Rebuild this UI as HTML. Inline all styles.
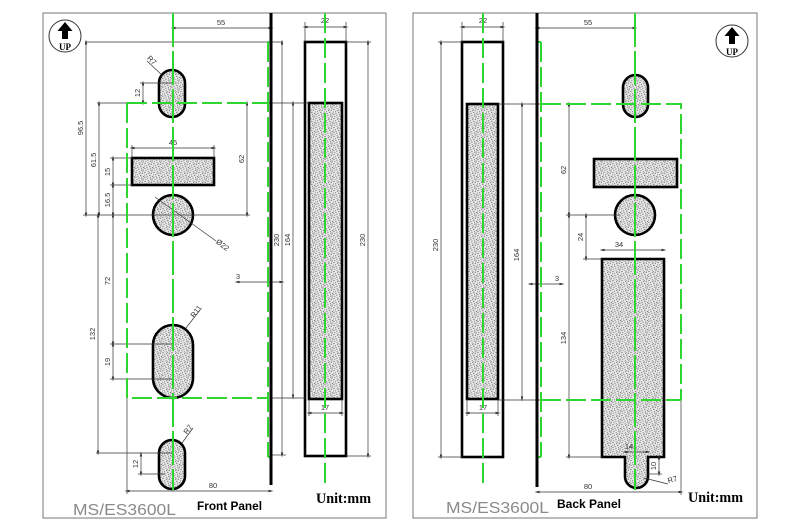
<!DOCTYPE html>
<html><head><meta charset="utf-8"><style>
html,body{margin:0;padding:0;background:#fff;}
svg{display:block;}
.d{stroke:#333;stroke-width:0.7;fill:none;}
.a{marker-start:url(#ar);marker-end:url(#ar);}
.g{stroke:#2fd62f;stroke-width:2;fill:none;stroke-dasharray:20 5;}
.gc{stroke:#2fd62f;stroke-width:2;fill:none;stroke-dasharray:34 4;}
.s{stroke:#000;stroke-width:2.6;fill:url(#st);}
.t{font-family:"Liberation Sans",sans-serif;font-size:7.5px;fill:#333;text-anchor:middle;}
</style></head><body>
<svg width="800" height="531" viewBox="0 0 800 531" xmlns="http://www.w3.org/2000/svg">
<defs>
<pattern id="st" width="9" height="9" patternUnits="userSpaceOnUse">
<rect width="9" height="9" fill="#e6e6e6"/>
<g fill="#666">
<circle cx="1" cy="1.5" r="0.6"/><circle cx="4.2" cy="0.8" r="0.55"/><circle cx="7.3" cy="2.2" r="0.6"/>
<circle cx="2.6" cy="3.8" r="0.55"/><circle cx="5.8" cy="4.4" r="0.6"/><circle cx="8.4" cy="5.6" r="0.55"/>
<circle cx="0.9" cy="6.3" r="0.6"/><circle cx="3.9" cy="7.2" r="0.55"/><circle cx="6.9" cy="8.1" r="0.6"/>
<circle cx="4.6" cy="2.6" r="0.5"/><circle cx="1.9" cy="8.4" r="0.5"/><circle cx="7.9" cy="0.2" r="0.5"/>
<circle cx="3" cy="5.5" r="0.5"/><circle cx="6.5" cy="6.3" r="0.5"/><circle cx="0.3" cy="4" r="0.5"/>
<circle cx="5.5" cy="1.8" r="0.45"/><circle cx="8.5" cy="8" r="0.45"/>
</g>
</pattern>
<marker id="ar" markerWidth="5" markerHeight="4" refX="2.5" refY="2" orient="auto-start-reverse" markerUnits="userSpaceOnUse">
<path d="M0,0.8 L5,2 L0,3.2 Z" fill="#333"/>
</marker>
</defs>

<!-- ================= LEFT (Front Panel) ================= -->
<rect x="43" y="13" width="343" height="505" fill="none" stroke="#777" stroke-width="1"/>
<circle cx="65" cy="36" r="16" fill="#fff" stroke="#333" stroke-width="1"/>
<polygon points="65,22 57.5,31 62,31 62,39 68,39 68,31 72.5,31" fill="#000"/>
<text x="65" y="50" font-family="Liberation Serif,serif" font-size="9" font-weight="bold" text-anchor="middle">UP</text>

<rect x="159" y="70" width="26" height="47" rx="13" class="s"/>
<rect x="132" y="158" width="82" height="27" class="s"/>
<circle cx="173" cy="215" r="20" class="s"/>
<rect x="153" y="325" width="40" height="73" rx="20" class="s"/>
<rect x="159" y="440" width="26" height="49" rx="13" class="s"/>
<rect x="305" y="42" width="41" height="414" fill="#fff" stroke="#000" stroke-width="2.6"/>
<rect x="309" y="103" width="33" height="296" class="s"/>

<line class="d a" x1="173" y1="28" x2="271" y2="28"/><text class="t" x="221" y="25">55</text>
<line class="d" x1="85" y1="42" x2="283" y2="42"/>
<line class="d a" x1="86" y1="42" x2="86" y2="215"/><text class="t" transform="translate(83,128) rotate(-90)">96.5</text>
<line class="d a" x1="99" y1="103" x2="99" y2="215"/><text class="t" transform="translate(96,160) rotate(-90)">61.5</text>
<line class="d" x1="97" y1="103" x2="127" y2="103"/>
<line class="d" x1="268" y1="103" x2="309" y2="103"/>
<line class="d a" x1="113" y1="158" x2="113" y2="185"/><text class="t" transform="translate(110,172) rotate(-90)">15</text>
<line class="d a" x1="113" y1="185" x2="113" y2="215"/><text class="t" transform="translate(110,200) rotate(-90)">16.5</text>
<line class="d" x1="110" y1="158" x2="132" y2="158"/><line class="d" x1="110" y1="185" x2="132" y2="185"/>
<line class="d" x1="83" y1="215" x2="250" y2="215"/>
<line class="d a" x1="132" y1="148" x2="214" y2="148"/><text class="t" x="173" y="145">45</text>
<line class="d" x1="132" y1="145" x2="132" y2="158"/><line class="d" x1="214" y1="145" x2="214" y2="158"/>
<line class="d a" x1="247" y1="103" x2="247" y2="215"/><text class="t" transform="translate(244,159) rotate(-90)">62</text>
<line class="d a" x1="143" y1="83" x2="143" y2="103"/><text class="t" transform="translate(140,93) rotate(-90)">12</text>
<line class="d" x1="140" y1="83" x2="173" y2="83"/>
<line class="d" x1="147" y1="61" x2="163" y2="76"/><text class="t" transform="translate(150,62) rotate(45)">R7</text>
<line class="d" x1="155" y1="197" x2="216" y2="241"/><text class="t" transform="translate(221,247) rotate(38)">Ø22</text>
<line class="d a" x1="113" y1="215" x2="113" y2="344"/><text class="t" transform="translate(110,281) rotate(-90)">72</text>
<line class="d a" x1="98" y1="215" x2="98" y2="453"/><text class="t" transform="translate(95,334) rotate(-90)">132</text>
<line class="d a" x1="113" y1="344" x2="113" y2="379"/><text class="t" transform="translate(110,362) rotate(-90)">19</text>
<line class="d" x1="110" y1="344" x2="173" y2="344"/><line class="d" x1="110" y1="379" x2="173" y2="379"/>
<line class="d" x1="186" y1="328" x2="200" y2="310"/><text class="t" transform="translate(198,313) rotate(-52)">R11</text>
<line class="d a" x1="141" y1="454" x2="141" y2="474"/><text class="t" transform="translate(138,464) rotate(-90)">12</text>
<line class="d" x1="96" y1="453" x2="172" y2="453"/><line class="d" x1="138" y1="474" x2="165" y2="474"/>
<line class="d" x1="182" y1="443" x2="193" y2="428"/><text class="t" transform="translate(190,431) rotate(-52)">R7</text>
<line class="d a" x1="127" y1="491" x2="271" y2="491"/><text class="t" x="213" y="488">80</text>
<line class="d" x1="127" y1="398" x2="127" y2="494"/>
<line class="d a" x1="237" y1="282" x2="282" y2="282"/><text class="t" x="238" y="279">3</text>
<line class="d a" x1="282" y1="42" x2="282" y2="455"/><text class="t" transform="translate(279,240) rotate(-90)">230</text>
<line class="d" x1="271" y1="455" x2="286" y2="455"/>
<line class="d a" x1="293" y1="103" x2="293" y2="397"/><text class="t" transform="translate(290,240) rotate(-90)">164</text>
<line class="d" x1="271" y1="398" x2="305" y2="398"/>
<line class="d a" x1="305" y1="27" x2="346" y2="27"/><text class="t" x="325" y="23">22</text>
<line class="d" x1="305" y1="22" x2="305" y2="42"/><line class="d" x1="346" y1="22" x2="346" y2="42"/>
<line class="d a" x1="368" y1="42" x2="368" y2="456"/><text class="t" transform="translate(365,240) rotate(-90)">230</text>
<line class="d" x1="346" y1="42" x2="371" y2="42"/><line class="d" x1="346" y1="456" x2="371" y2="456"/>
<line class="d a" x1="309" y1="413" x2="342" y2="413"/><text class="t" x="325" y="410">17</text>
<line class="d" x1="309" y1="399" x2="309" y2="416"/><line class="d" x1="342" y1="399" x2="342" y2="416"/>

<line class="gc" x1="173" y1="13" x2="173" y2="490"/>
<line class="g" x1="325" y1="13" x2="325" y2="483"/>
<path class="g" d="M268,42 L268,457"/>
<path class="g" d="M127,103 L268,103 M127,103 L127,398 L268,398"/>
<path stroke="#2fd62f" stroke-width="2" d="M268,42 L271,42 M268,457 L271,457"/>
<line x1="271" y1="13" x2="271" y2="485" stroke="#000" stroke-width="3"/>

<text x="73" y="515" font-family="Liberation Sans,sans-serif" font-size="16" fill="#8a8a8a" textLength="103" lengthAdjust="spacingAndGlyphs">MS/ES3600L</text>
<text x="197" y="510" font-family="Liberation Sans,sans-serif" font-size="12" font-weight="bold" fill="#000" textLength="65" lengthAdjust="spacingAndGlyphs">Front Panel</text>
<text x="316" y="503" font-family="Liberation Serif,serif" font-size="15" font-weight="bold" fill="#000" textLength="55" lengthAdjust="spacingAndGlyphs">Unit:mm</text>

<!-- ================= RIGHT (Back Panel) ================= -->
<rect x="413" y="13" width="344" height="505" fill="none" stroke="#777" stroke-width="1"/>
<circle cx="732" cy="41" r="16" fill="#fff" stroke="#333" stroke-width="1"/>
<polygon points="732,27 724.5,36 729,36 729,44 735,44 735,36 739.5,36" fill="#000"/>
<text x="732" y="55" font-family="Liberation Serif,serif" font-size="9" font-weight="bold" text-anchor="middle">UP</text>

<rect x="462" y="42" width="41" height="415" fill="#fff" stroke="#000" stroke-width="2.6"/>
<rect x="467" y="104" width="31" height="295" class="s"/>
<rect x="623" y="75" width="25" height="42" rx="12.5" class="s"/>
<rect x="594" y="159" width="83" height="28" class="s"/>
<circle cx="635" cy="215" r="20" class="s"/>
<path class="s" d="M602,259 H664 V457 H648 V476.5 A11.5,11.5 0 0 1 625,476.5 V457 H602 Z"/>

<line class="d a" x1="462" y1="27" x2="503" y2="27"/><text class="t" x="483" y="23">22</text>
<line class="d" x1="462" y1="22" x2="462" y2="42"/><line class="d" x1="503" y1="22" x2="503" y2="42"/>
<line class="d a" x1="441" y1="42" x2="441" y2="457"/><text class="t" transform="translate(438,245) rotate(-90)">230</text>
<line class="d" x1="438" y1="42" x2="462" y2="42"/><line class="d" x1="438" y1="457" x2="462" y2="457"/>
<line class="d a" x1="522" y1="104" x2="522" y2="399"/><text class="t" transform="translate(519,255) rotate(-90)">164</text>
<line class="d" x1="498" y1="104" x2="541" y2="104"/><line class="d" x1="498" y1="400" x2="541" y2="400"/>
<line class="d a" x1="467" y1="413" x2="498" y2="413"/><text class="t" x="483" y="410">17</text>
<line class="d" x1="467" y1="399" x2="467" y2="416"/><line class="d" x1="498" y1="399" x2="498" y2="416"/>
<line class="d a" x1="537" y1="28" x2="635" y2="28"/><text class="t" x="588" y="25">55</text>
<line class="d a" x1="569" y1="104" x2="569" y2="215"/><text class="t" transform="translate(566,170) rotate(-90)">62</text>
<line class="d a" x1="569" y1="215" x2="569" y2="457"/><text class="t" transform="translate(566,338) rotate(-90)">134</text>
<line class="d" x1="566" y1="215" x2="620" y2="215"/>
<line class="d a" x1="586" y1="215" x2="586" y2="259"/><text class="t" transform="translate(583,237) rotate(-90)">24</text>
<line class="d" x1="583" y1="259" x2="602" y2="259"/>
<line class="d" x1="566" y1="457" x2="602" y2="457"/>
<line class="d a" x1="602" y1="250" x2="664" y2="250"/><text class="t" x="619" y="247">34</text>
<line class="d a" x1="530" y1="284" x2="562" y2="284"/><text class="t" x="557" y="281">3</text>
<line class="d a" x1="625" y1="452" x2="648" y2="452"/><text class="t" x="629" y="449">14</text>
<line class="d a" x1="659" y1="457" x2="659" y2="474"/><text class="t" transform="translate(656,466) rotate(-90)">10</text>
<line class="d" x1="648" y1="474" x2="662" y2="474"/>
<line class="d" x1="644" y1="478" x2="668" y2="484"/><text class="t" transform="translate(673,482) rotate(-15)">R7</text>
<line class="d a" x1="537" y1="492" x2="681" y2="492"/><text class="t" x="588" y="489">80</text>
<line class="d" x1="681" y1="400" x2="681" y2="495"/>

<line class="g" x1="483" y1="13" x2="483" y2="484"/>
<line class="gc" x1="635" y1="13" x2="635" y2="490"/>
<path class="g" d="M541,42 L541,457"/>
<path class="g" d="M541,104 L681,104 L681,400 M541,400 L681,400"/>
<path stroke="#2fd62f" stroke-width="2" d="M537,42 L541,42 M537,457 L541,457"/>
<line x1="537" y1="13" x2="537" y2="487" stroke="#000" stroke-width="3"/>

<text x="446" y="513" font-family="Liberation Sans,sans-serif" font-size="16" fill="#8a8a8a" textLength="103" lengthAdjust="spacingAndGlyphs">MS/ES3600L</text>
<text x="557" y="508" font-family="Liberation Sans,sans-serif" font-size="12" font-weight="bold" fill="#000" textLength="64" lengthAdjust="spacingAndGlyphs">Back Panel</text>
<text x="688" y="502" font-family="Liberation Serif,serif" font-size="15" font-weight="bold" fill="#000" textLength="55" lengthAdjust="spacingAndGlyphs">Unit:mm</text>
</svg>
</body></html>
